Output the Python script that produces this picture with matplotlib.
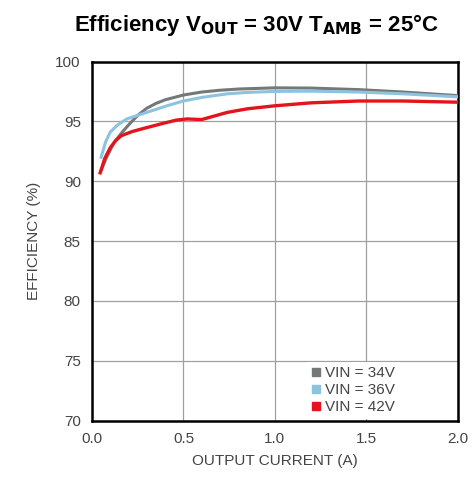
import matplotlib
matplotlib.use("Agg")
import matplotlib.pyplot as plt

plt.rcParams['font.family'] = ['Liberation Sans', 'DejaVu Sans']

x34 = [0.05, 0.08, 0.12, 0.16, 0.20, 0.25, 0.30, 0.35, 0.40, 0.50, 0.60, 0.70, 0.80, 1.00, 1.20, 1.46, 1.70, 2.00]
y34 = [90.9, 92.0, 93.2, 94.0, 94.7, 95.5, 96.1, 96.5, 96.8, 97.2, 97.45, 97.6, 97.7, 97.8, 97.78, 97.65, 97.45, 97.15]

x36 = [0.05, 0.075, 0.10, 0.14, 0.19, 0.25, 0.34, 0.42, 0.50, 0.60, 0.74, 0.85, 1.00, 1.20, 1.46, 1.70, 2.00]
y36 = [92.0, 93.3, 94.1, 94.7, 95.2, 95.5, 95.95, 96.35, 96.7, 97.0, 97.3, 97.42, 97.5, 97.52, 97.45, 97.3, 97.05]

x42 = [0.045, 0.07, 0.10, 0.13, 0.16, 0.22, 0.28, 0.38, 0.46, 0.52, 0.60, 0.67, 0.74, 0.85, 1.00, 1.20, 1.46, 1.70, 2.00]
y42 = [90.7, 91.9, 92.8, 93.4, 93.8, 94.15, 94.4, 94.8, 95.1, 95.2, 95.15, 95.45, 95.75, 96.05, 96.3, 96.55, 96.7, 96.7, 96.6]

labels = ["VIN = 34V", "VIN = 36V", "VIN = 42V"]
colors = ["#757878", "#8cc4e0", "#e3141c"]

xticks = [0.0, 0.5, 1.0, 1.5, 2.0]
yticks = [70, 75, 80, 85, 90, 95, 100]

fig = plt.figure(figsize=(4.74, 4.96), dpi=100)
ax = fig.add_axes([0.194, 0.152, 0.772, 0.724])

ax.plot(x34, y34, color=colors[0], lw=2.2, label=labels[0], zorder=3)
ax.plot(x36, y36, color=colors[1], lw=2.2, label=labels[1], zorder=4)
ax.plot(x42, y42, color=colors[2], lw=2.4, label=labels[2], zorder=5)

ax.set_xlim(0, 2.0)
ax.set_ylim(70, 100)
ax.set_xticks(xticks)
ax.set_xticklabels([f"{v:.1f}" for v in xticks])
ax.set_yticks(yticks)
ax.grid(True, color="#a0a0a0", lw=0.9)
ax.set_axisbelow(True)
ax.tick_params(length=0, labelsize=11, colors="#444444", pad=8)
for s in ax.spines.values():
    s.set_linewidth(1.8)
    s.set_color("black")

ax.set_xlabel("OUTPUT CURRENT (A)", fontsize=11, color="#444444", labelpad=6)
ax.set_ylabel("EFFICIENCY (%)", fontsize=11, color="#444444", labelpad=10)

fig.suptitle(r"Efficiency V$_{\mathbf{OUT}}$ = 30V T$_{\mathbf{AMB}}$ = 25°C",
             x=0.54, y=0.975, fontsize=16, fontweight="bold")

handles = [plt.Line2D([], [], marker="s", ls="none", color=c, markersize=6) for c in colors]
leg = ax.legend(handles, labels, loc="lower right", bbox_to_anchor=(0.845, 0.0),
                fontsize=11, frameon=True, fancybox=False, framealpha=1,
                edgecolor="none", facecolor="white", handlelength=0.6,
                handletextpad=0.3, labelspacing=0.2, borderpad=0.3,
                borderaxespad=0.1)
for t in leg.get_texts():
    t.set_color("#444444")

fig.savefig("out.png", dpi=100)
